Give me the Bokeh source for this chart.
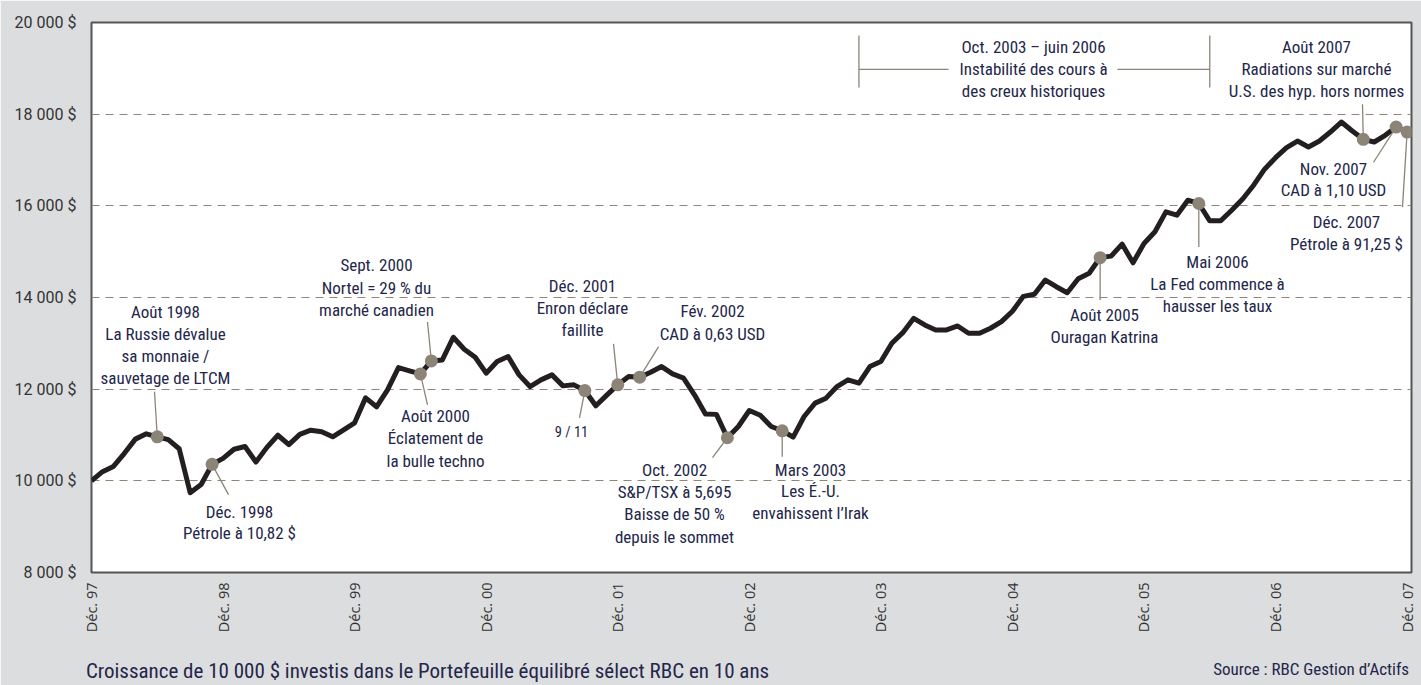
import math
from bokeh.plotting import figure
from bokeh.models import Range1d, FixedTicker, LinearAxis
from bokeh.core.properties import value
from bokeh.embed import file_html
from bokeh.resources import INLINE

# ---------------- data ----------------
months = list(range(121))  # Dec 1997 .. Dec 2007
values = [
    10000, 10200, 10315, 10600, 10910, 11025, 10960, 10900, 10700, 9740,
    9920, 10360, 10490, 10690, 10750, 10410, 10730, 10995, 10790, 11015,
    11105, 11070, 10960, 11114, 11265, 11810, 11615, 11985, 12470, 12400,
    12333, 12617, 12638, 13133, 12871, 12697, 12349, 12602, 12711, 12312,
    12057, 12203, 12312, 12072, 12094, 11970, 11637, 11870, 12094, 12275,
    12262, 12370, 12493, 12333, 12240, 11876, 11456, 11450, 10940, 11186,
    11535, 11430, 11186, 11092, 10955, 11404, 11695, 11804, 12057, 12203,
    12130, 12493, 12602, 13002, 13233, 13546, 13401, 13292, 13292, 13379,
    13220, 13220, 13329, 13473, 13700, 14025, 14070, 14381, 14235, 14104,
    14410, 14530, 14870, 14903, 15165, 14757, 15180, 15433, 15868, 15796,
    16123, 16051, 15673, 15673, 15905, 16150, 16450, 16800, 17050, 17270,
    17414, 17284, 17414, 17610, 17828, 17632, 17451, 17393, 17538, 17719,
    17610,
]
x_tick_months = [0, 12, 24, 36, 48, 60, 72, 84, 96, 108, 120]
x_tick_labels = ["Déc. 97", "Déc. 98", "Déc. 99", "Déc. 00", "Déc. 01", "Déc. 02",
                 "Déc. 03", "Déc. 04", "Déc. 05", "Déc. 06", "Déc. 07"]
y_ticks = [8000, 10000, 12000, 14000, 16000, 18000, 20000]
y_tick_labels = ["8 000 $", "10 000 $", "12 000 $", "14 000 $", "16 000 $", "18 000 $", "20 000 $"]

event_months = [6, 11, 30, 31, 45, 48, 50, 58, 63, 92, 101, 116, 119, 120]
event_texts = [
    ["Août 1998", "La Russie dévalue", "sa monnaie /", "sauvetage de LTCM"],
    ["Déc. 1998", "Pétrole à 10,82 $"],
    ["Août 2000", "Éclatement de", "la bulle techno"],
    ["Sept. 2000", "Nortel = 29 % du", "marché canadien"],
    ["9 / 11"],
    ["Déc. 2001", "Enron déclare", "faillite"],
    ["Fév. 2002", "CAD à 0,63 USD"],
    ["Oct. 2002", "S&P/TSX à 5,695", "Baisse de 50 %", "depuis le sommet"],
    ["Mars 2003", "Les É.-U.", "envahissent l’Irak"],
    ["Août 2005", "Ouragan Katrina"],
    ["Mai 2006", "La Fed commence à", "hausser les taux"],
    ["Août 2007", "Radiations sur marché", "U.S. des hyp. hors normes"],
    ["Nov. 2007", "CAD à 1,10 USD"],
    ["Déc. 2007", "Pétrole à 91,25 $"],
]
period_months = [70, 102]  # Oct. 2003 – juin 2006
period_text = ["Oct. 2003 – juin 2006", "Instabilité des cours à", "des creux historiques"]

footer_text = "Croissance de 10 000 $ investis dans le Portefeuille équilibré sélect RBC en 10 ans"
source_text = "Source : RBC Gestion d’Actifs"

# ---------------- layout / style ----------------
FONT = "Roboto Condensed, DejaVu Sans Condensed, Liberation Sans Narrow, sans-serif"
NAVY = "#23264a"
GRAYTXT = "#333333"
BG = "#dcdddf"
DOT = "#8c8577"
ANN_SIZE = "17px"

X0, X1 = 0, 120.4
Y0, Y1 = 8000, 20000
# page-pixel -> data helpers for placing label text (frame: x 91..1411, y 22..573)
def dx(px):
    return X0 + (px - 91) / (1411 - 91) * (X1 - X0)

def dy(py):
    return Y0 + (573 - py) / (573 - 22) * (Y1 - Y0)

# label layout for each event: (center x, first line y, line step, leader end x, leader end y, font size)
label_layout = [
    (165, 312, 22.2, 154, 392, ANN_SIZE),
    (239, 512, 21.5, 228, 495, ANN_SIZE),
    (435, 416, 22.5, 427, 405, ANN_SIZE),
    (376, 265, 22.5, 427, 322, ANN_SIZE),
    (571, 433, 0, 579, 418, "14.5px"),
    (582, 286, 22.2, 613, 344, ANN_SIZE),
    (712, 311, 23, 658, 347, ANN_SIZE),
    (674, 470, 22.4, 712, 458, ANN_SIZE),
    (810, 470, 21.5, None, 457, ANN_SIZE),
    (1104, 315, 22.3, None, 300, ANN_SIZE),
    (1217, 262, 22.2, None, 247, ANN_SIZE),
    (1316, 47, 22, 1362, 104, ANN_SIZE),
    (1333, 169, 21, 1373, 162, ANN_SIZE),
    (1346, 222, 21.5, 1402, 207, ANN_SIZE),
]

p = figure(width=1421, height=685,
           x_range=Range1d(X0, X1), y_range=Range1d(Y0, Y1),
           min_border_left=91, min_border_right=10, min_border_top=22, min_border_bottom=112,
           output_backend="svg", toolbar_location=None,
           background_fill_color="white", border_fill_color=BG,
           outline_line_color="#555555", outline_line_width=2)

def plain_axis(ax):
    ax.axis_line_color = None
    ax.major_tick_line_color = None
    ax.minor_tick_line_color = None
    ax.major_tick_out = 0
    ax.major_tick_in = 0
    ax.minor_tick_out = 0
    ax.minor_tick_in = 0

# axes
p.yaxis.ticker = FixedTicker(ticks=y_ticks)
p.yaxis.major_label_overrides = {t: l for t, l in zip(y_ticks, y_tick_labels)}
p.xaxis.ticker = FixedTicker(ticks=x_tick_months)
p.xaxis.major_label_overrides = {t: l for t, l in zip(x_tick_months, x_tick_labels)}
p.xaxis.major_label_orientation = math.pi / 2
for ax in (p.xaxis[0], p.yaxis[0]):
    plain_axis(ax)
    ax.major_label_text_color = GRAYTXT
p.yaxis.major_label_text_font = "Roboto"
p.yaxis.major_label_text_font_size = "16px"
p.yaxis.major_label_standoff = 15
p.xaxis.major_label_text_font = "Open Sans"
p.xaxis.major_label_text_font_size = "14.5px"
p.xaxis.major_label_standoff = 10

# footer line: two label-only axes below the date axis
FOOT_X = 30.65
SRC_X = 111.25
foot_axis = LinearAxis(ticker=FixedTicker(ticks=[FOOT_X]), major_label_overrides={FOOT_X: footer_text})
src_axis = LinearAxis(ticker=FixedTicker(ticks=[SRC_X]), major_label_overrides={SRC_X: source_text})
plain_axis(src_axis)
plain_axis(foot_axis)
foot_axis.major_label_text_font = FONT
foot_axis.major_label_text_font_size = "21px"
foot_axis.major_label_text_color = NAVY
foot_axis.major_label_standoff = 23
src_axis.major_label_text_font = FONT
src_axis.major_label_text_font_size = "17px"
src_axis.major_label_text_color = NAVY
src_axis.major_label_standoff = -27
p.add_layout(foot_axis, "below")
p.add_layout(src_axis, "below")

p.xgrid.visible = False
p.ygrid.grid_line_color = "#8f8676"
p.ygrid.grid_line_dash = "8 6"
p.ygrid.grid_line_width = 1

# main line
p.line(months, values, line_width=5, color="#231f20", line_join="round")

# leaders
lx0, ly0, lx1, ly1 = [], [], [], []
for m, lay in zip(event_months, label_layout):
    ex = lay[3]
    lx0.append(m)
    ly0.append(values[m])
    lx1.append(m if ex is None else dx(ex))
    ly1.append(dy(lay[4]))
p.segment(lx0, ly0, lx1, ly1, line_color=DOT, line_width=1.3)

# period bracket
top_tick, bot_tick, mid = dy(35), dy(87), dy(69)
p.segment(period_months, [top_tick] * 2, period_months, [bot_tick] * 2, line_color=DOT, line_width=1.3)
p.segment([period_months[0], dx(1117)], [mid, mid], [dx(948), period_months[1]], [mid, mid],
          line_color=DOT, line_width=1.3)

# dots
p.scatter(event_months, [values[m] for m in event_months], size=13, color=DOT, line_color=None)

# event texts
tx, ty, tt, ts = [], [], [], []
for lines, lay in zip(event_texts, label_layout):
    for k, line in enumerate(lines):
        tx.append(dx(lay[0]))
        ty.append(dy(lay[1] + k * lay[2]))
        tt.append(line)
        ts.append(lay[5])
for k, line in enumerate(period_text):
    tx.append(dx(1033))
    ty.append(dy(47 + k * 22))
    tt.append(line)
    ts.append(ANN_SIZE)
p.text(x=tx, y=ty, text=tt, text_font_size=ts, text_align="center", text_baseline="middle",
       text_font=value(FONT), text_color=NAVY)

open("out.html", "w").write(file_html(p, INLINE))
